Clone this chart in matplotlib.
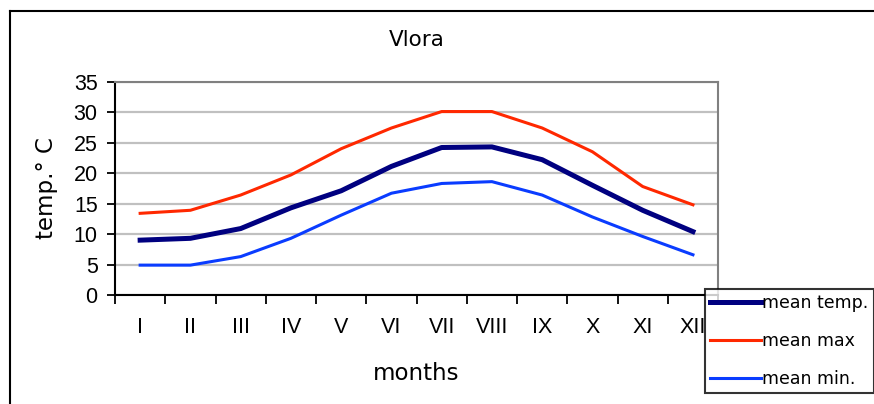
import matplotlib
matplotlib.use("Agg")
import matplotlib.pyplot as plt
from matplotlib.lines import Line2D
import numpy as np

plt.rcParams["font.family"] = ["DejaVu Sans"]

months = ["I", "II", "III", "IV", "V", "VI", "VII", "VIII", "IX", "X", "XI", "XII"]
mean_temp = [9.0, 9.3, 10.9, 14.3, 17.1, 21.1, 24.2, 24.3, 22.2, 18.0, 13.9, 10.4]
mean_max = [13.4, 13.9, 16.4, 19.7, 24.0, 27.4, 30.1, 30.1, 27.4, 23.5, 17.8, 14.8]
mean_min = [4.9, 4.9, 6.3, 9.3, 13.1, 16.7, 18.3, 18.6, 16.4, 12.8, 9.6, 6.6]
y_ticks = [0, 5, 10, 15, 20, 25, 30, 35]

tick_font = "Liberation Sans"

fig = plt.figure(figsize=(8.74, 4.04), dpi=100)
ax = fig.add_axes([0.1316, 0.2698, 0.690, 0.528])

x = np.arange(len(months))
ax.plot(x, mean_temp, color="#000080", linewidth=3.6, label="mean temp.", zorder=3)
ax.plot(x, mean_max, color="#ff2800", linewidth=2.2, label="mean max", zorder=3)
ax.plot(x, mean_min, color="#0a3cff", linewidth=2.2, label="mean min.", zorder=3)

ax.set_xlim(-0.5, len(months) - 0.5)
ax.set_ylim(0, 35)
ax.set_yticks(y_ticks)
ax.set_yticklabels([str(v) for v in y_ticks], family=tick_font, fontsize=15.5)
ax.set_xticks(np.arange(len(months) + 1) - 0.5)
ax.set_xticklabels([])
ax.set_xticks(x, minor=True)
ax.set_xticklabels(months, minor=True, family=tick_font, fontsize=15.5)
ax.tick_params(axis="x", which="major", direction="out", length=6.5, width=1.3, color="black")
ax.tick_params(axis="x", which="minor", length=0, pad=16)
ax.tick_params(axis="y", direction="out", length=6, width=1.3, pad=6.5)

ax.yaxis.grid(True, color="#c0c0c0", linewidth=1.6)
ax.set_axisbelow(True)
for side in ["top", "right"]:
    ax.spines[side].set_color("#808080")
    ax.spines[side].set_linewidth(1.5)
for side in ["left", "bottom"]:
    ax.spines[side].set_color("black")
    ax.spines[side].set_linewidth(1.5)

ax.set_title("Vlora", fontsize=15.5, pad=26)
ax.set_xlabel("months", fontsize=16.5, labelpad=17)
ax.set_ylabel("temp.° C", fontsize=16.5, labelpad=11)

leg = fig.legend(
    loc="upper left",
    bbox_to_anchor=(705 / 874, 1 - 289 / 404),
    frameon=True,
    fancybox=False,
    edgecolor="black",
    fontsize=12.5,
    handlelength=2.9,
    handletextpad=0.1,
    labelspacing=1.15,
    borderpad=0.3,
    borderaxespad=0,
)
leg.get_frame().set_linewidth(1.5)

# outer chart border (left and top)
fig.add_artist(Line2D([10 / 874, 10 / 874], [0, 1 - 11 / 404], color="black", linewidth=1.5))
fig.add_artist(Line2D([10 / 874, 1], [1 - 11 / 404, 1 - 11 / 404], color="black", linewidth=1.5))

fig.savefig("out.png", dpi=100)
